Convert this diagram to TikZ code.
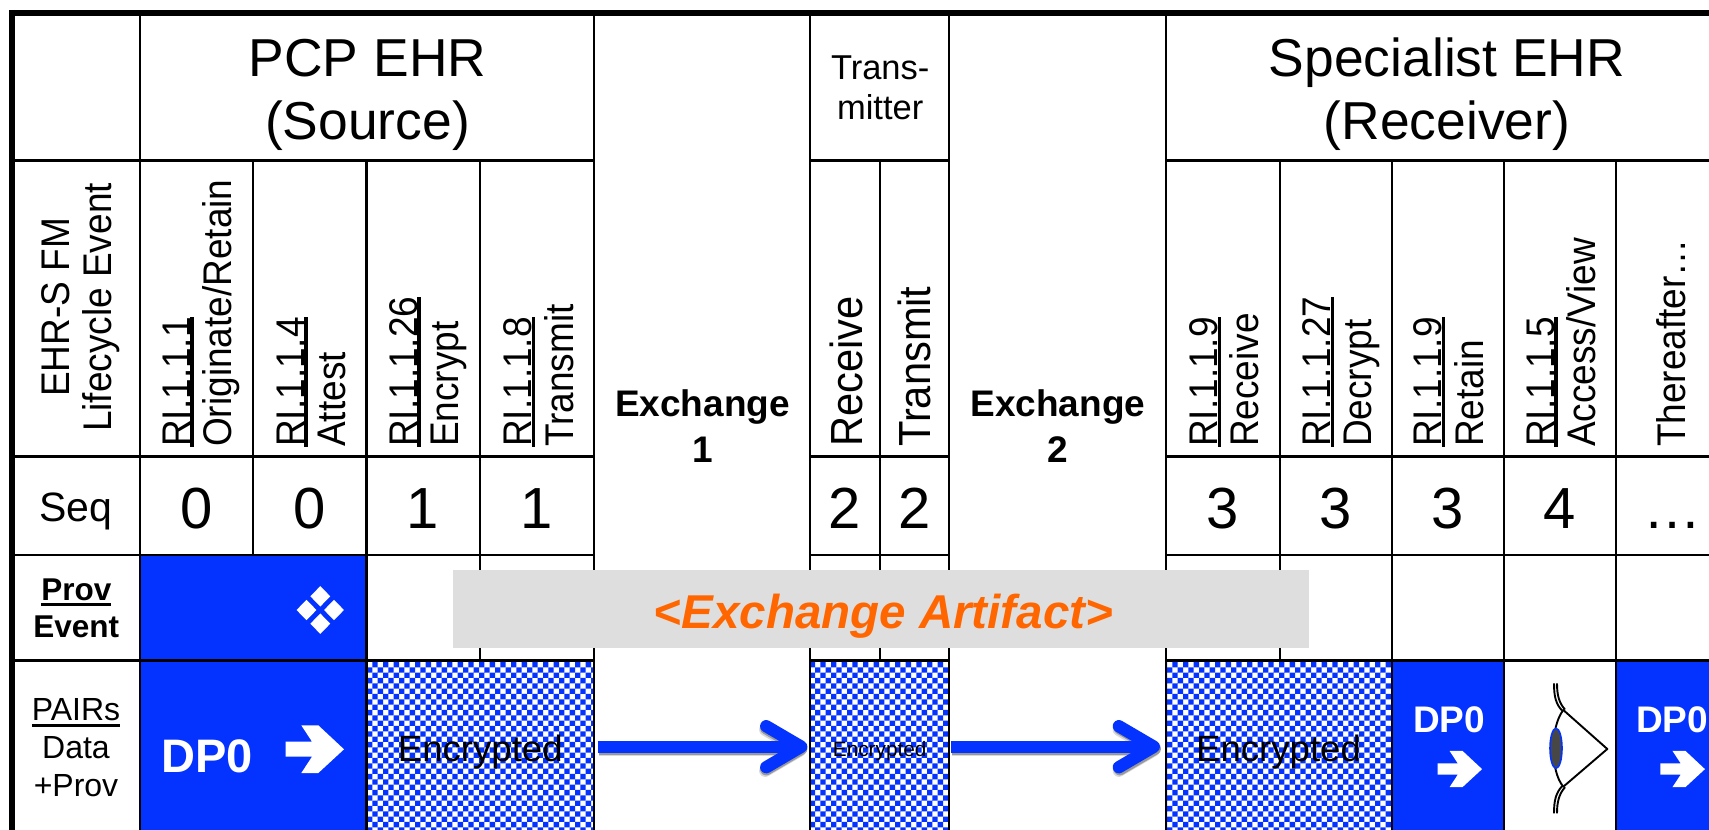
\documentclass[tikz,border=0pt]{standalone}
\usepackage{fontspec}
\setmainfont{Liberation Sans}
\newfontfamily\rotfont[FakeStretch=0.925]{Liberation Sans}
\usetikzlibrary{shapes,patterns,arrows.meta}
\definecolor{dpblue}{RGB}{4,51,255}
\definecolor{artifactorange}{RGB}{255,102,0}
\definecolor{bannergrey}{RGB}{222,222,222}
\pgfdeclarepatternformonly{bluecheck}{\pgfqpoint{-1pt}{2.7pt}}{\pgfqpoint{9.667pt}{13.367pt}}{\pgfqpoint{10.667pt}{10.667pt}}{
	\pgfpathrectangle{\pgfqpoint{-1pt}{2.7pt}}{\pgfqpoint{5.333pt}{5.333pt}}
	\pgfpathrectangle{\pgfqpoint{4.333pt}{8.033pt}}{\pgfqpoint{5.333pt}{5.333pt}}
	\pgfusepath{fill}
}
\newcommand{\ulabel}[2][3.6pt]{\leavevmode\setbox0=\hbox{#2}\rlap{\rule[-#1]{\wd0}{3.3pt}}\box0}
\tikzstyle{gridline}=[line width=2.4pt,black]
\tikzstyle{boldline}=[line width=6pt,black]
\tikzstyle{bluecell}=[rectangle,
	fill=dpblue,
	inner sep=0pt,
	outer sep=0pt]
\tikzstyle{checkcell}=[rectangle,
	pattern=bluecheck,
	pattern color=dpblue,
	inner sep=0pt,
	outer sep=0pt,
	text depth=0pt]
\tikzstyle{banner}=[rectangle,
	fill=bannergrey,
	minimum width=856pt,
	minimum height=78pt,
	inner sep=0pt,
	text=artifactorange,
	text height=40pt,
	text depth=2pt,
	font=\fontsize{47.5}{50}\bfseries\itshape\selectfont]
\tikzstyle{headlabel}=[anchor=base,
	align=center,
	inner sep=0pt,
	font=\fontsize{53.4}{63}\selectfont]
\tikzstyle{rotlabel}=[anchor=base west,
	rotate=90,
	align=left,
	inner sep=0pt,
	font=\rotfont\fontsize{40}{41.5}\selectfont]
\tikzstyle{rowlabel}=[anchor=base,
	align=center,
	inner sep=0pt,
	font=\fontsize{32}{38}\selectfont]
\tikzstyle{exchangelabel}=[anchor=base,
	align=center,
	inner sep=0pt,
	font=\fontsize{37}{45.5}\bfseries\selectfont]
\tikzstyle{seqnum}=[inner sep=0pt,
	text height=42pt,
	text depth=0pt,
	font=\fontsize{58}{58}\selectfont]
\tikzstyle{dplabel}=[anchor=base,
	inner sep=0pt,
	text=white,
	font=\fontsize{37}{37}\bfseries\selectfont]
\tikzstyle{lozenge}=[diamond,
	fill=white,
	inner sep=0pt,
	minimum width=20pt,
	minimum height=20.6pt]
\tikzstyle{flowarrow}=[line width=12.3pt,
	dpblue,
	-{Straight Barb[round,length=35pt,width=41pt,line width=12.3pt]}]
\tikzstyle{flowshadow}=[line width=12.3pt,
	-{Straight Barb[round,length=35pt,width=41pt,line width=12.3pt]}]
\tikzstyle{eyeline}=[line width=1.9pt,black,line cap=round]
\tikzset{whitearrow/.pic={
	\fill[white] (-29.25,-7.5) -- (-2.75,-7.5) -- (-13.45,-23.85) -- (3.55,-23.85) -- (29.25,0.15) -- (3.55,23.85) -- (-13.45,23.85) -- (-2.75,7.55) -- (-29.25,7.55) -- cycle;
}}

\begin{document}
\begin{tikzpicture}[x=1pt,y=-1pt]
	\useasboundingbox (0,0) rectangle (1709,830);

	\node (provbox) [bluecell, minimum width=226.9pt, minimum height=105.5pt] at (253.15,607.75){};
	\node (dpbox1) [bluecell, minimum width=226.9pt, minimum height=169.5pt] at (253.15,745.25){};
	\node (dpbox2) [bluecell, minimum width=112pt, minimum height=169.5pt] at (1448,745.25){};
	\node (dpbox3) [bluecell, minimum width=93pt, minimum height=169.5pt] at (1662.5,745.25){};
	\node (enc1) [checkcell, minimum width=227.4pt, minimum height=169.5pt, text height=33pt, font=\fontsize{36.6}{40}\selectfont] at (480.3,745.25){Encrypted};
	\node (enc2) [checkcell, minimum width=138.6pt, minimum height=169.5pt, text height=23pt, font=\fontsize{20.8}{24}\selectfont] at (879.7,745.25){Encrypted};
	\node (enc3) [checkcell, minimum width=227pt, minimum height=169.5pt, text height=33pt, font=\fontsize{36.6}{40}\selectfont] at (1278.5,745.25){Encrypted};

	\draw[boldline] (9,13) -- (1709,13);
	\draw[line width=5.5pt] (12,10) -- (12,830);
	\draw[gridline] (12,160.5) -- (594,160.5) (810,160.5) -- (949,160.5) (1166,160.5) -- (1709,160.5);
	\draw[gridline] (12,456.5) -- (594,456.5) (810,456.5) -- (949,456.5) (1166,456.5) -- (1709,456.5);
	\draw[gridline] (12,555) -- (594,555) (810,555) -- (949,555) (1166,555) -- (1709,555);
	\draw[gridline] (12,660.5) -- (594,660.5) (810,660.5) -- (949,660.5) (1166,660.5) -- (1709,660.5);
	\draw[gridline] (139.7,13) -- (139.7,830);
	\draw[gridline] (253,160.5) -- (253,555);
	\draw[gridline] (366.6,160.5) -- (366.6,830);
	\draw[gridline] (480,160.5) -- (480,660.5);
	\draw[gridline] (594,13) -- (594,830);
	\draw[gridline] (810,13) -- (810,830);
	\draw[gridline] (879.7,160.5) -- (879.7,660.5);
	\draw[gridline] (949,13) -- (949,830);
	\draw[gridline] (1166,13) -- (1166,830);
	\draw[gridline] (1280,160.5) -- (1280,660.5);
	\draw[gridline] (1392,160.5) -- (1392,830);
	\draw[gridline] (1504,160.5) -- (1504,830);
	\draw[gridline] (1616,160.5) -- (1616,830);

	\node (pcp) [headlabel] at (367.5,139.3){PCP EHR\\(Source)};
	\node (transmitter) [headlabel, font=\fontsize{34.5}{40}\selectfont] at (880.2,119.3){Trans-\\mitter};
	\node (specialist) [headlabel] at (1447,139.3){Specialist EHR\\(Receiver)};

	\node (lifecycle) [rotlabel, anchor=base, align=center] at (111,307.5){EHR-S FM\\Lifecycle Event};
	\node (originate) [rotlabel] at (231.5,447){\ulabel{RI.1.1.1}\\Originate/Retain};
	\node (attest) [rotlabel] at (345.6,447){\ulabel{RI.1.1.4}\\Attest};
	\node (encrypt) [rotlabel] at (458.5,447){\ulabel{RI.1.1.26}\\Encrypt};
	\node (transmit) [rotlabel] at (573,447){\ulabel{RI.1.1.8}\\Transmit};
	\node (receive2) [rotlabel, font=\rotfont\fontsize{45}{45}\selectfont] at (862.5,447){Receive};
	\node (transmit2) [rotlabel, font=\rotfont\fontsize{45}{45}\selectfont] at (930.6,447){Transmit};
	\node (receive3) [rotlabel] at (1258.7,447){\ulabel{RI.1.1.9}\\Receive};
	\node (decrypt) [rotlabel] at (1371.7,447){\ulabel{RI.1.1.27}\\Decrypt};
	\node (retain) [rotlabel] at (1483.3,447){\ulabel{RI.1.1.9}\\Retain};
	\node (access) [rotlabel] at (1595.6,447){\ulabel{RI.1.1.5}\\Access/View};
	\node (thereafter) [rotlabel] at (1685.8,447){Thereafter…};

	\node (exchange1) [exchangelabel] at (702.5,462.3){Exchange\\1};
	\node (exchange2) [exchangelabel] at (1057.8,462.3){Exchange\\2};

	\node (seqlabel) [anchor=base, inner sep=0pt, font=\fontsize{41}{41}\selectfont] at (75.6,521.7){Seq};
	\node (seq1) [seqnum] at (196.5,507.7){0};
	\node (seq2) [seqnum, right of=seq1, node distance=113.3pt]{0};
	\node (seq3) [seqnum, right of=seq2, node distance=113.3pt]{1};
	\node (seq4) [seqnum, right of=seq3, node distance=113.5pt]{1};
	\node (seq5) [seqnum] at (845,507.7){2};
	\node (seq6) [seqnum, right of=seq5, node distance=69.4pt]{2};
	\node (seq7) [seqnum] at (1223,507.7){3};
	\node (seq8) [seqnum, right of=seq7, node distance=113pt]{3};
	\node (seq9) [seqnum, right of=seq8, node distance=112pt]{3};
	\node (seq10) [seqnum, right of=seq9, node distance=112pt]{4};
	\node (seq11) [seqnum, right of=seq10, node distance=112pt]{…};

	\node (provevent) [rowlabel, font=\fontsize{31.5}{37.6}\bfseries\selectfont] at (76.3,637.8){\ulabel[6.2pt]{Prov}\\Event};
	\node (pairs) [rowlabel] at (76,796){\ulabel[7pt]{PAIRs}\\Data\\+Prov};

	\node (lozenge1) [lozenge] at (320.3,596.3){};
	\node (lozenge2) [lozenge] at (306.5,610){};
	\node (lozenge3) [lozenge] at (334,610){};
	\node (lozenge4) [lozenge] at (320.3,623.7){};

	\node (dp1) [dplabel, font=\fontsize{47}{47}\bfseries\selectfont] at (207,772.7){DP0};
	\pic at (314.75,749.15) {whitearrow};
	\node (dp2) [dplabel] at (1449,732.7){DP0};
	\pic[scale=.76] at (1459.8,769) {whitearrow};
	\node (dp3) [dplabel] at (1672,732.7){DP0};
	\pic[scale=.76] at (1682.7,769) {whitearrow};

	\draw[eyeline] (1563.3,710) .. controls (1550,727) and (1550,771) .. (1563.3,786.7);
	\draw[eyeline, line join=round] (1563.3,710) -- (1607.3,749) -- (1563.3,786.7);
	\draw[eyeline, line cap=butt] (1554,683.3) .. controls (1554,697) and (1556,704) .. (1562,710.5);
	\draw[eyeline, line cap=butt] (1557,683.3) .. controls (1557,695) and (1559,703) .. (1565,709.5);
	\draw[eyeline, line cap=butt] (1554,813.3) .. controls (1554,800) and (1556,793) .. (1562,786.2);
	\draw[eyeline, line cap=butt] (1557,813.3) .. controls (1557,802) and (1559,794) .. (1565,787.2);
	\draw[draw=dpblue, fill=black!72, line width=1.6pt] (1556,748.3) ellipse (6 and 20);

	\node (artifact) [banner] at (881,609){\hspace*{5pt}<Exchange Artifact>};

	\draw[flowshadow, black!15, shorten <=3.7pt, shorten >=5pt] ([xshift=1pt,yshift=-5pt]enc1.east) -- ([xshift=1pt,yshift=-5pt]enc2.west);
	\draw[flowshadow, black!40, shorten <=3.7pt, shorten >=4pt] ([xshift=1pt,yshift=-3.5pt]enc1.east) -- ([xshift=1pt,yshift=-3.5pt]enc2.west);
	\draw[flowshadow, black!15, shorten <=2pt, shorten >=6pt] ([xshift=1pt,yshift=-5pt]enc2.east) -- ([xshift=1pt,yshift=-5pt]enc3.west);
	\draw[flowshadow, black!40, shorten <=2pt, shorten >=5pt] ([xshift=1pt,yshift=-3.5pt]enc2.east) -- ([xshift=1pt,yshift=-3.5pt]enc3.west);
	\draw[flowarrow, shorten <=3.7pt, shorten >=3pt] ([yshift=-1.45pt]enc1.east) -- ([yshift=-1.45pt]enc2.west);
	\draw[flowarrow, shorten <=2pt, shorten >=5pt] ([yshift=-1.45pt]enc2.east) -- ([yshift=-1.45pt]enc3.west);
\end{tikzpicture}
\end{document}
